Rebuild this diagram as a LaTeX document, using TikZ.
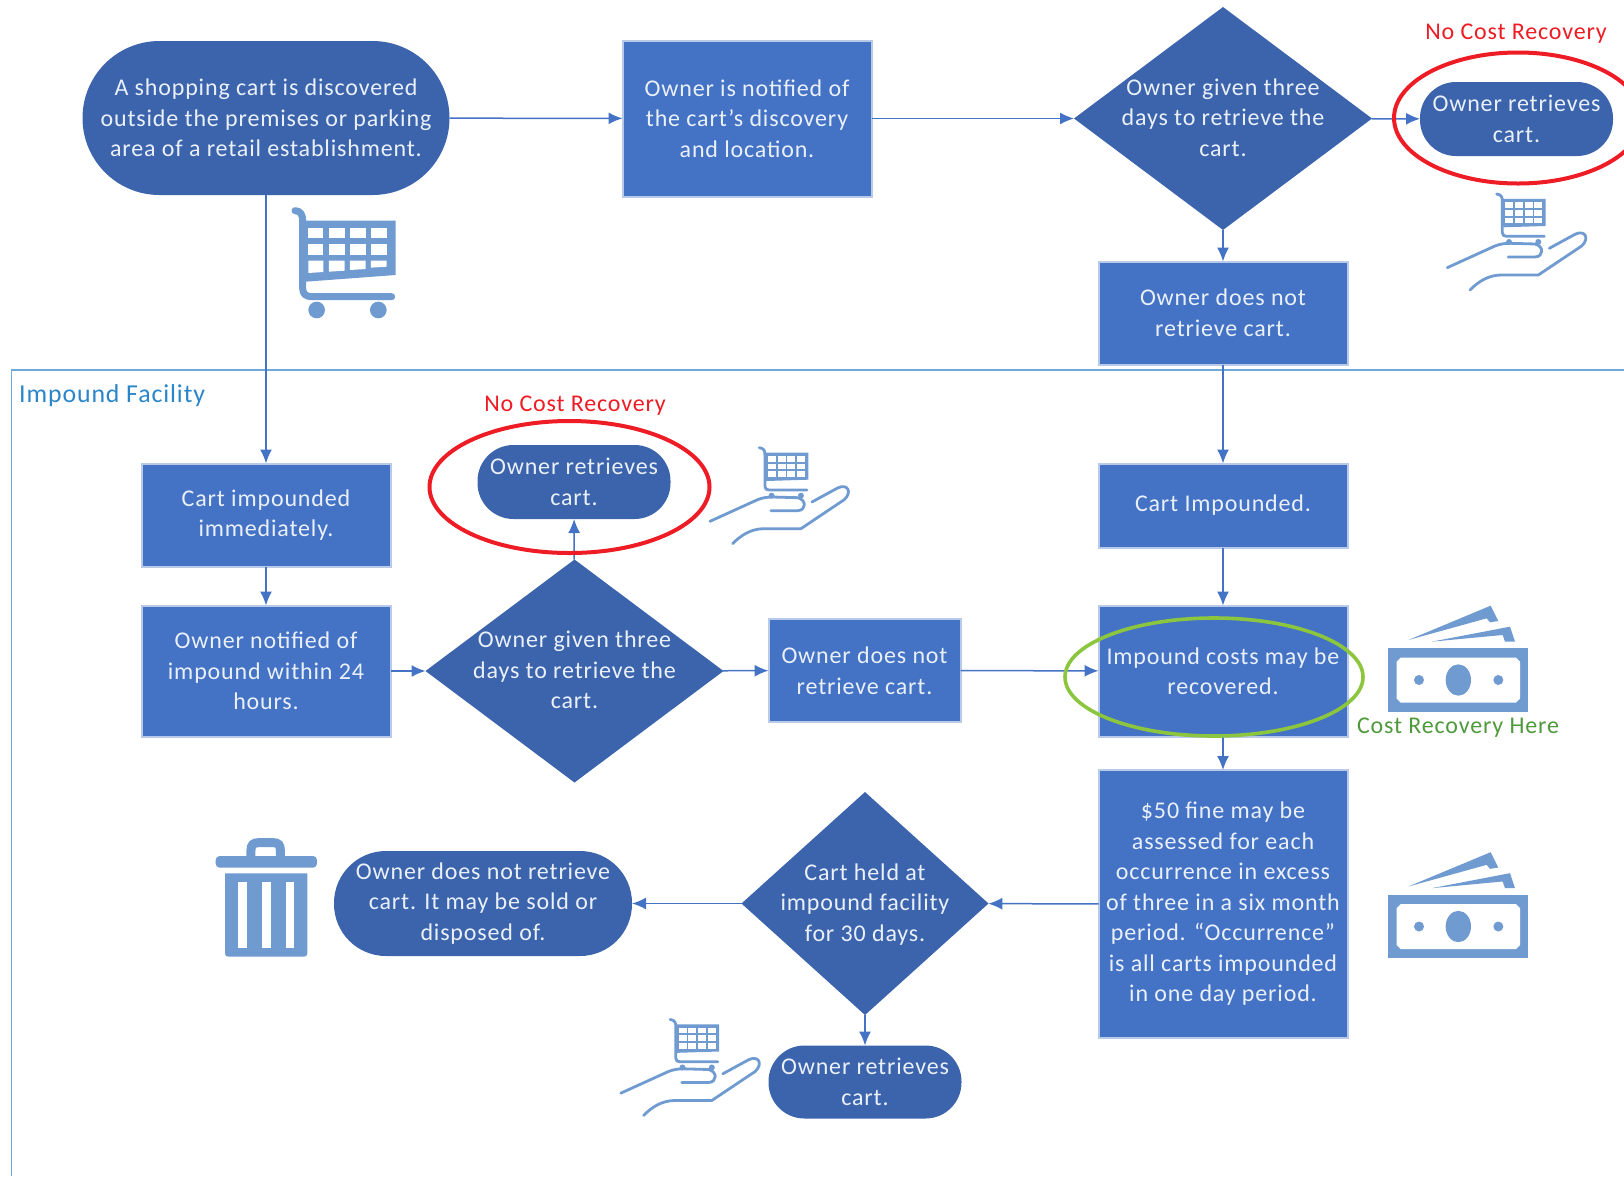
\documentclass[tikz,border=0pt]{standalone}
\usepackage{fontspec}
\setmainfont{Carlito}[LetterSpace=3.5]
\usetikzlibrary{shapes.geometric,arrows.meta}
\definecolor{darkfill}{HTML}{3C64AC}
\definecolor{rectfill}{HTML}{4472C4}
\definecolor{rectedge}{HTML}{B9CAE8}
\definecolor{linkcol}{HTML}{4472C4}
\definecolor{iconcol}{HTML}{6F9BD1}
\definecolor{lanecol}{HTML}{6FA8DC}
\definecolor{lanetext}{HTML}{2A86C8}
\definecolor{redmark}{HTML}{EE1C25}
\definecolor{greenmark}{HTML}{8CC63F}
\definecolor{greentext}{HTML}{4F9A3C}
\definecolor{bodytext}{HTML}{EAF0FA}
\newcommand{\dtext}[1]{\smash{\makebox[0pt]{\raisebox{-7.5pt}{\begin{tabular}[c]{@{}c@{}}#1\end{tabular}}}}}
\newcommand{\bigfont}{\fontsize{24}{30.5}\selectfont}
\tikzset{
  body/.style={font=\bigfont,text=bodytext,align=center,inner sep=0pt,outer sep=0pt},
  rectbox/.style={body,rectangle,fill=rectfill,draw=rectedge,line width=2pt},
  pill/.style={body,rectangle,rounded corners=36pt,fill=darkfill},
  gate/.style={body,diamond,fill=darkfill},
  link/.style={linkcol,line width=1.5pt,-{Latex[length=14pt,width=12pt]}},
  marktext/.style={font=\fontsize{24}{28}\selectfont,inner sep=0pt},
  icon/.style={x=0.3333pt,y=-0.3333pt},
  handline/.style={iconcol,line width=2.8pt,line cap=round,line join=round},
}
\newcommand{\moneyicon}[2]{%
\begin{scope}[shift={(#1,#2)},icon]
 \fill[iconcol] (55,175) rectangle (475,365);
 \fill[white] (80,215) -- (92,203) -- (438,203) -- (450,215) -- (450,326) -- (438,338) -- (92,338) -- (80,326) -- cycle;
 \fill[iconcol] (265,270) ellipse [x radius=38,y radius=47];
 \fill[iconcol] (147,270) circle [radius=15];
 \fill[iconcol] (385,270) circle [radius=15];
 \fill[iconcol] (115,150) -- (362,47) -- (385,93) -- (360,97) -- (350,85) -- cycle;
 \fill[iconcol] (185,155) -- (420,110) -- (435,155) -- (405,155) -- (398,135) -- cycle;
\end{scope}}
\newcommand{\handicon}[2]{%
\begin{scope}[shift={(#1,#2)},icon]
 \fill[iconcol] (425,597) -- (557,597) -- (557,678) -- (430,682) -- cycle;
 \foreach \cx in {436,465,494,523}{\foreach \cy in {607,630,653}{
   \fill[white] (\cx,\cy) rectangle ++(24,17);}}
 \draw[handline] (410,582) .. controls (425,584) and (427,592) .. (427,604) -- (427,698) .. controls (427,706) and (432,709) .. (440,709) -- (553,709);
 \fill[iconcol] (447,726) circle [radius=9];
 \fill[iconcol] (535,726) circle [radius=9];
 \draw[handline] (262,803) -- (405,738) .. controls (420,732) and (435,730) .. (450,730) -- (525,732) .. controls (552,738) and (552,770) .. (525,771) -- (445,771);
 \draw[handline] (568,745) -- (645,703) .. controls (675,688) and (690,715) .. (665,738) -- (535,825) -- (425,825) .. controls (385,825) and (355,845) .. (330,870);
\end{scope}}
\begin{document}
\begin{tikzpicture}[x=1pt,y=-1pt]
\clip (0,0) rectangle (1624,1176);
\fill[white] (0,0) rectangle (1624,1176);
% swimlane
\draw[lanecol,line width=1.2pt] (1624,370) -- (11.5,370) -- (11.5,1176);
\node[font=\fontsize{25.8}{28}\selectfont,text=lanetext,anchor=west,inner sep=0pt] (lane) at (19,395.5) {Impound Facility};
% nodes
\node[pill,rounded corners=77pt,minimum width=367pt,minimum height=154pt] (start) at (266,118) {A shopping cart is discovered\\outside the premises or parking\\area of a retail establishment.};
\node[rectbox,minimum width=249pt,minimum height=156pt] (notify) at (747,118.5) {Owner is notified of\\the cart’s discovery\\and location.};
\node[gate,minimum width=298pt,minimum height=223pt,shape aspect=1.336] (gateA) at (1223,118.5) {\dtext{Owner given three\\days to retrieve the\\cart.}};
\node[pill,minimum width=193pt,minimum height=74pt] (getA) at (1516.5,119) {Owner retrieves\\cart.};
\node[rectbox,minimum width=249pt,minimum height=103pt] (noA) at (1223,313) {Owner does not\\retrieve cart.};
\node[rectbox,minimum width=249pt,minimum height=103pt] (imm) at (266,515) {Cart impounded\\immediately.};
\node[rectbox,minimum width=249pt,minimum height=131pt] (told) at (266,671) {Owner notified of\\impound within 24\\hours.};
\node[gate,minimum width=298pt,minimum height=223pt,shape aspect=1.336] (gateB) at (574.5,671) {\dtext{Owner given three\\days to retrieve the\\cart.}};
\node[pill,minimum width=193pt,minimum height=74pt] (getB) at (574,482) {Owner retrieves\\cart.};
\node[rectbox,minimum width=192pt,minimum height=103pt] (noB) at (864.5,670.5) {Owner does not\\retrieve cart.};
\node[rectbox,minimum width=249pt,minimum height=84pt] (held) at (1223,505.5) {Cart Impounded.};
\node[rectbox,minimum width=249pt,minimum height=131pt] (costs) at (1223,671) {Impound costs may be\\recovered.};
\node[rectbox,minimum width=249pt,minimum height=268pt] (fine) at (1223,904) {\$50 fine may be\\assessed for each\\occurrence in excess\\of three in a six month\\period.  “Occurrence”\\is all carts impounded\\in one day period.};
\node[gate,minimum width=247pt,minimum height=223pt,shape aspect=1.108] (gateC) at (865,903.5) {\dtext{Cart held at\\impound facility\\for 30 days.}};
\node[pill,rounded corners=52pt,minimum width=298pt,minimum height=105pt] (sold) at (483,903.5) {Owner does not retrieve\\cart.  It may be sold or\\disposed of.};
\node[pill,minimum width=193pt,minimum height=73pt] (getC) at (865,1082) {Owner retrieves\\cart.};
% connectors
\draw[link] (start) -- (notify);
\draw[link] (notify) -- (gateA);
\draw[link] (gateA) -- (getA);
\draw[link] (gateA) -- (noA);
\draw[link] (noA) -- (held);
\draw[link] (held) -- (costs);
\draw[link] (costs) -- (fine);
\draw[link] (fine) -- (gateC);
\draw[link] (gateC) -- (sold);
\draw[link] (gateC) -- (getC);
\draw[link] (start) -- (imm);
\draw[link] (imm) -- (told);
\draw[link] (told) -- (gateB);
\draw[link] (gateB) -- (getB);
\draw[link] (gateB) -- (noB);
\draw[link] (noB) -- (costs);
% ellipses
\draw[redmark,line width=4pt] (1518,118) ellipse [x radius=124,y radius=65.5];
\draw[redmark,line width=4pt] (569.5,487) ellipse [x radius=140,y radius=66];
\draw[greenmark,line width=3.6pt] (1214,677) ellipse [x radius=149,y radius=59];
% marks
\node[marktext,text=redmark] (nocostA) at (1516,34) {No Cost Recovery};
\node[marktext,text=redmark] (nocostB) at (575,406) {No Cost Recovery};
\node[marktext,text=greentext] (recover) at (1458,728) {Cost Recovery Here};
% icons
\begin{scope}[shift={(270,190)},icon]
 \fill[iconcol] (108,92) -- (377,92) -- (377,255) -- (108,275) -- cycle;
 \foreach \cx/\cw in {115/45,177/47,240/47,303/47}{\foreach \cy/\ch in {115/30,163/32}{
   \fill[white] (\cx,\cy) rectangle ++(\cw,\ch);}}
 \fill[white] (115,212) -- (160,212) -- (160,246) -- (115,249) -- cycle;
 \fill[white] (177,212) -- (224,212) -- (224,242) -- (177,245) -- cycle;
 \fill[white] (240,212) -- (287,212) -- (287,237) -- (240,240) -- cycle;
 \fill[white] (303,212) -- (350,212) -- (350,230) -- (303,233) -- cycle;
 \draw[iconcol,line width=7pt,line cap=round,line join=round] (75,62) .. controls (92,62) and (98,75) .. (98,92) -- (98,295) .. controls (98,312) and (108,320) .. (125,320) -- (365,320);
 \fill[iconcol] (140,360) circle [radius=25];
 \fill[iconcol] (325,360) circle [radius=25];
\end{scope}
\handicon{1360}{0}
\handicon{622.6}{253.7}
\handicon{533.5}{825.5}
\moneyicon{1370}{590}
\moneyicon{1370}{836.5}
\begin{scope}[shift={(200,825)},icon]
 \fill[iconcol,rounded corners=4pt] (47,128) -- (47,93) -- (351,93) -- (351,128) -- cycle;
 \draw[iconcol,line width=9pt] (153,93) -- (153,75) .. controls (153,60) and (160,53) .. (175,53) -- (220,53) .. controls (235,53) and (241,60) .. (241,75) -- (241,93);
 \fill[iconcol] (75,145) -- (322,145) -- (322,385) .. controls (322,392) and (318,395) .. (312,395) -- (85,395) .. controls (79,395) and (75,392) .. (75,385) -- cycle;
 \fill[white] (115,172) rectangle (140,368);
 \fill[white] (187,172) rectangle (212,368);
 \fill[white] (258,172) rectangle (283,368);
\end{scope}
\end{tikzpicture}
\end{document}
